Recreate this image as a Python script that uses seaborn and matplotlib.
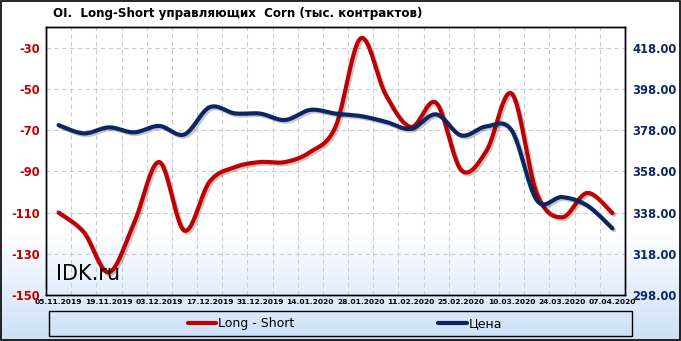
import numpy as np
import pandas as pd
import matplotlib
matplotlib.use("Agg")
import matplotlib.pyplot as plt
import matplotlib.patheffects as pe
from matplotlib.patches import Rectangle
from matplotlib.lines import Line2D
import seaborn as sns

# ---- data ----
dates = ["05.11.2019", "12.11.2019", "19.11.2019", "26.11.2019", "03.12.2019", "10.12.2019",
         "17.12.2019", "24.12.2019", "31.12.2019", "07.01.2020", "14.01.2020", "21.01.2020",
         "28.01.2020", "04.02.2020", "11.02.2020", "18.02.2020", "25.02.2020", "03.03.2020",
         "10.03.2020", "17.03.2020", "24.03.2020", "31.03.2020", "07.04.2020"]
long_short = [-110, -119.5, -139, -115, -85.5, -118.8, -95, -88, -85.5, -85.5, -80.6, -68.4,
              -25.5, -53, -68.5, -56.8, -89.5, -80, -52.3, -100.9, -112.3, -100.5, -110.3]
price = [380.4, 376.4, 379.3, 376.9, 380.0, 375.9, 389.1, 386.1, 386.0, 382.9, 387.8, 386.0,
         384.8, 382.0, 378.6, 385.6, 375.4, 379.8, 377.8, 343.9, 345.5, 341.4, 330.3]
left_ticks = [-150, -130, -110, -90, -70, -50, -30]
right_ticks = [298, 318, 338, 358, 378, 398, 418]
title = "OI.  Long-Short управляющих  Corn (тыс. контрактов)"
label_ls = "Long - Short"
label_price = "Цена"

RED = "#c00000"
NAVY = "#0b2664"


def smooth(y, n=24):
    """Catmull-Rom rendering of a polyline (for drawing smooth lines, Excel style)."""
    y = np.asarray(y, float)
    x = np.arange(len(y), dtype=float)
    P = np.column_stack([x, y])
    P = np.vstack([P[0], P, P[-1]])
    out = []
    for i in range(1, len(P) - 2):
        p0, p1, p2, p3 = P[i - 1], P[i], P[i + 1], P[i + 2]
        t = np.linspace(0, 1, n, endpoint=False)[:, None]
        c = 0.5 * ((2 * p1) + (-p0 + p2) * t + (2 * p0 - 5 * p1 + 4 * p2 - p3) * t ** 2
                   + (-p0 + 3 * p1 - 3 * p2 + p3) * t ** 3)
        out.append(c)
    out.append(P[-2][None, :])
    out = np.vstack(out)
    return out[:, 0], out[:, 1]


sns.set_style("white")
plt.rcParams["font.family"] = ["DejaVu Sans"]

fig = plt.figure(figsize=(6.81, 3.41), dpi=100)

# background gradient
bg = fig.add_axes([0, 0, 1, 1], zorder=-10)
h = 341
grad = np.ones((h, 1, 3))
top_c = np.array([1.0, 1.0, 1.0])
bot_c = np.array([0.80, 0.88, 0.97])
for r in range(h):
    f = r / (h - 1)
    if f < 0.68:
        grad[r, 0] = top_c
    else:
        k = (f - 0.68) / 0.32
        grad[r, 0] = top_c * (1 - k) + bot_c * k
bg.imshow(grad, aspect="auto", extent=[0, 1, 0, 1])
bg.set_axis_off()
fig.patches.append(Rectangle((0.0015, 0.003), 0.997, 0.994, transform=fig.transFigure,
                             fill=False, ec="black", lw=1.2))

ax = fig.add_axes([46 / 681, 1 - 295 / 341, 579 / 681, 268 / 341])
ax.patch.set_alpha(0)
ax2 = ax.twinx()

shadow = [pe.SimpleLineShadow(offset=(1.3, -1.3), shadow_color="black", alpha=0.22), pe.Normal()]

xr, yr = smooth(long_short)
xp, yp = smooth(price)
df_r = pd.DataFrame({"x": xr, "y": yr})
df_p = pd.DataFrame({"x": xp, "y": yp})
sns.lineplot(data=df_r, x="x", y="y", ax=ax, color=RED, lw=3.0, sort=False,
             path_effects=shadow, zorder=3)
sns.lineplot(data=df_p, x="x", y="y", ax=ax2, color=NAVY, lw=3.0, sort=False,
             path_effects=shadow, zorder=3)

ax.set_xlim(-0.5, len(dates) - 0.5)
ax.set_ylim(-150, -20)
ax2.set_ylim(298, 428)

ax.set_yticks(left_ticks)
ax.set_yticklabels([str(v) for v in left_ticks], color=RED, fontweight="bold", fontsize=8.3)
ax2.set_yticks(right_ticks)
ax2.set_yticklabels([f"{v:.2f}" for v in right_ticks], color=NAVY, fontweight="bold", fontsize=8.3)

idx = list(range(0, len(dates), 2))
ax.set_xticks(idx)
ax.set_xticklabels([dates[i] for i in idx], fontsize=5.4, fontweight="bold", color="black")
ax.set_xticks(np.arange(0.5, len(dates) - 1, 1), minor=True)

ax.tick_params(axis="both", which="both", length=0)
ax.tick_params(axis="x", pad=3)
ax.tick_params(axis="y", pad=4)
ax2.tick_params(axis="y", length=0, pad=5)

ax.grid(False)
ax.grid(True, which="minor", axis="x", ls=(0, (4, 3)), color="#cccccc", lw=0.8)
ax.grid(True, which="major", axis="y", ls=(0, (4, 3)), color="#cccccc", lw=0.8)
ax2.grid(False)
ax.set_xlabel("")
ax.set_ylabel("")
ax2.set_ylabel("")
for a in (ax, ax2):
    for s in a.spines.values():
        s.set_color("black")
        s.set_linewidth(1.0)

ax.text(0.017, 0.04, "IDK.ru", transform=ax.transAxes, fontsize=15, color="black",
        ha="left", va="bottom", zorder=5)

fig.text(53 / 681, 1 - 13 / 341, title, fontsize=8.6, fontweight="bold", ha="left",
         va="center", color="black")

# legend
fig.patches.append(Rectangle((49 / 681, 1 - 336 / 341), 583 / 681, 25 / 341,
                             transform=fig.transFigure, fill=False, ec="black", lw=1.0))
handles = [Line2D([], [], color=RED, lw=3.0), Line2D([], [], color=NAVY, lw=3.0)]
leg = fig.legend(handles, [label_ls, label_price], loc="center", ncol=2,
                 bbox_to_anchor=(345 / 681, 1 - 323.5 / 341), frameon=False, fontsize=9,
                 handlelength=2.3, handletextpad=0.15, columnspacing=11.5, borderpad=0)
for t in leg.get_texts():
    t.set_color("black")

fig.savefig("out.png", dpi=100)
